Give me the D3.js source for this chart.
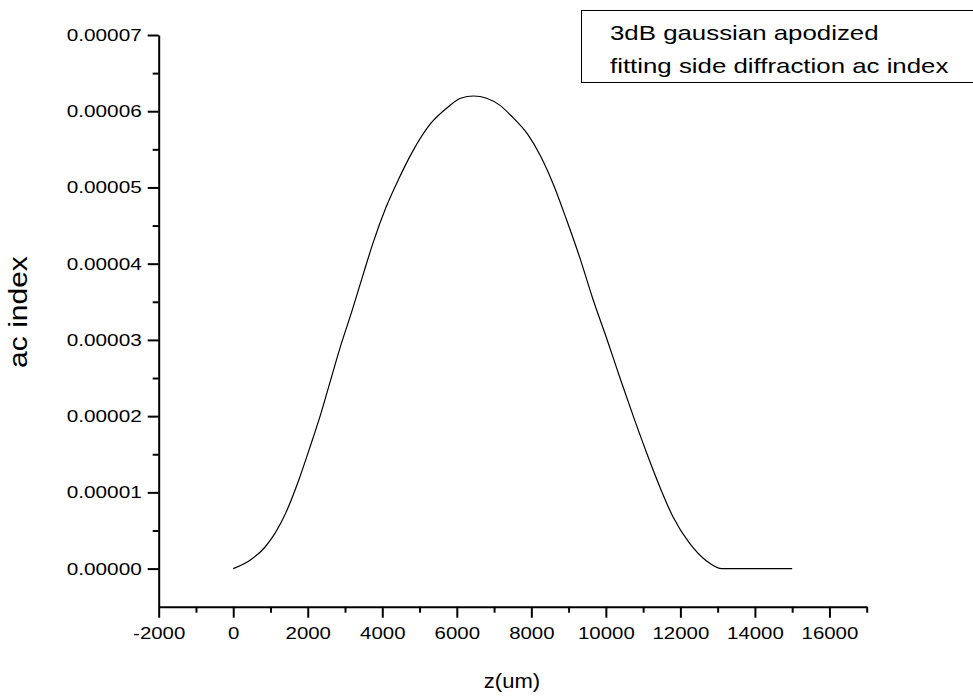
<!DOCTYPE html>
<html>
<head>
<meta charset="utf-8">
<script src="https://cdn.jsdelivr.net/npm/d3@7"></script>
<style>
  html, body { margin: 0; padding: 0; background: #fff; }
  svg { display: block; font-family: "Liberation Sans", Arial, sans-serif; }
</style>
</head>
<body>
<svg id="chart" width="973" height="700"></svg>
<script>
// ---- data ----
const zValues = [0, 450, 850, 1400, 1750, 2050, 2350, 2600, 2850, 3200, 3500, 3750, 4100, 4450, 4800, 5300, 5750, 6100, 6450, 6800, 7150, 7500, 7900, 8250, 8600, 8950, 9300, 9650, 10050, 10400, 10750, 11100, 11450, 11800, 12250, 12700, 13100, 15000];
const acIndex = [0, 0.11e-5, 0.28e-5, 0.72e-5, 1.15e-5, 1.58e-5, 2.03e-5, 2.45e-5, 2.87e-5, 3.40e-5, 3.88e-5, 4.27e-5, 4.74e-5, 5.12e-5, 5.46e-5, 5.84e-5, 6.05e-5, 6.17e-5, 6.20e-5, 6.17e-5, 6.08e-5, 5.92e-5, 5.70e-5, 5.41e-5, 5.03e-5, 4.57e-5, 4.08e-5, 3.54e-5, 2.98e-5, 2.47e-5, 1.98e-5, 1.51e-5, 1.07e-5, 0.68e-5, 0.33e-5, 0.10e-5, 0, 0];
const xTicks = [-2000, 0, 2000, 4000, 6000, 8000, 10000, 12000, 14000, 16000];
const yTicks = [0, 0.00001, 0.00002, 0.00003, 0.00004, 0.00005, 0.00006, 0.00007];
const legendLines = ["3dB gaussian apodized", "fitting side diffraction ac index"];
const xLabel = "z(um)";
const yLabel = "ac index";

(function () {
  // ---- layout ----
  const mLeft = 158.7, mRight = 866.7, mTop = 35, mBottom = 606.7;
  const svg = d3.select("#chart");

  // stretch text along its baseline (reference text is widened)
  function stretch(sel, factor) {
    sel.each(function () {
      const w = this.getComputedTextLength();
      d3.select(this).attr("textLength", w * factor).attr("lengthAdjust", "spacingAndGlyphs");
    });
  }

  const x = d3.scaleLinear().domain([-2000, 17000]).range([mLeft, mRight]);
  const y = d3.scaleLinear().domain([-0.000005, 0.00007]).range([mBottom, mTop]);

  const xMinor = d3.range(-2000, 17001, 1000).filter(v => !xTicks.includes(v));
  const yMinor = d3.range(0, 15).map(i => i * 0.000005).filter((v, i) => i % 2 === 1);

  // x axis
  const gx = svg.append("g").attr("transform", `translate(0,${mBottom})`);
  gx.call(d3.axisBottom(x).tickValues(xTicks).tickSize(11).tickSizeOuter(0).tickPadding(9)
    .tickFormat(d => String(d)));
  const gxm = svg.append("g").attr("transform", `translate(0,${mBottom})`);
  gxm.call(d3.axisBottom(x).tickValues(xMinor).tickSize(6).tickSizeOuter(0).tickFormat(""));
  gxm.select(".domain").remove();

  // y axis
  const gy = svg.append("g").attr("transform", `translate(${mLeft},0)`);
  gy.call(d3.axisLeft(y).tickValues(yTicks).tickSize(11).tickSizeOuter(0).tickPadding(6).tickFormat(d3.format(".5f")));
  const gym = svg.append("g").attr("transform", `translate(${mLeft},0)`);
  gym.call(d3.axisLeft(y).tickValues(yMinor).tickSize(6).tickSizeOuter(0).tickFormat(""));
  gym.select(".domain").remove();

  svg.selectAll(".domain, .tick line").attr("stroke", "#000").attr("stroke-width", 2);
  svg.selectAll(".tick text").attr("fill", "#000").style("font-size", "17px").style("font-family", "Liberation Sans, Arial, sans-serif");
  stretch(gx.selectAll(".tick text"), 1.2);
  stretch(gy.selectAll(".tick text"), 1.22);

  // curve
  const pts = zValues.map((z, i) => [z, acIndex[i]]);
  svg.append("path")
    .datum(pts)
    .attr("fill", "none")
    .attr("stroke", "#000")
    .attr("stroke-width", 1.2)
    .attr("d", d3.line().x(d => x(d[0])).y(d => y(d[1])).curve(d3.curveMonotoneX));

  // axis titles
  const xl = svg.append("text").attr("x", 512).attr("y", 688)
    .attr("text-anchor", "middle").style("font-size", "20px").text(xLabel);
  stretch(xl, 1.1);
  const yl = svg.append("text").attr("transform", `translate(27,312) rotate(-90)`)
    .attr("text-anchor", "middle").style("font-size", "25px").text(yLabel);
  stretch(yl, 1.2);

  // legend box
  svg.append("rect").attr("x", 581.5).attr("y", 10.5).attr("width", 400).attr("height", 72)
    .attr("fill", "#fff").attr("stroke", "#000").attr("stroke-width", 1);
  const lg = svg.selectAll(".lg").data(legendLines).enter().append("text")
    .attr("x", 610).attr("y", (d, i) => 40 + i * 33)
    .style("font-size", "21px").text(d => d);
  stretch(lg, 1.23);
})();
</script>
</body>
</html>
